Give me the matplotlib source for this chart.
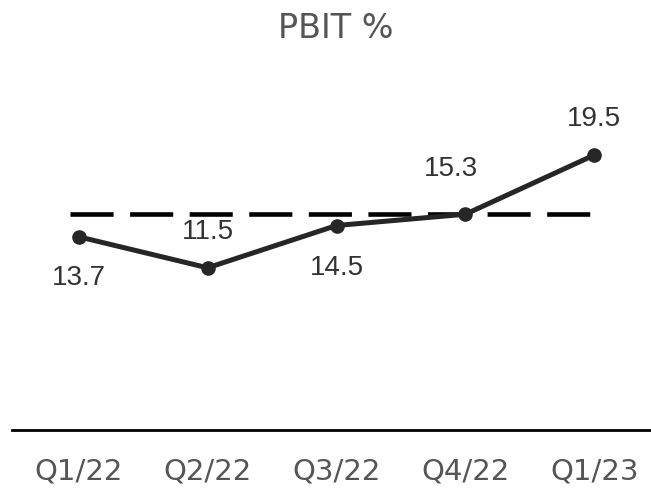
import matplotlib
matplotlib.use("Agg")
import matplotlib.pyplot as plt

categories = ["Q1/22", "Q2/22", "Q3/22", "Q4/22", "Q1/23"]
pbit = [13.7, 11.5, 14.5, 15.3, 19.5]
labels = ["13.7", "11.5", "14.5", "15.3", "19.5"]
target = 15.3
title = "PBIT %"

fig = plt.figure(figsize=(6.51, 4.88), dpi=100)
ax = fig.add_axes([0.018, 0.119, 0.982, 0.676])
x = list(range(len(categories)))

ax.plot([-0.07, 4.07], [target, target], color="black", lw=3.3,
        dashes=(9.4, 3.6), solid_capstyle="butt", zorder=1)
ax.plot(x, pbit, color="#262626", lw=3.6, marker="o", markersize=9.5, zorder=3)

offsets = [(0, -41), (0, 36), (0, -42), (-14, 45), (0, 36)]
for xi, yi, lab, off in zip(x, pbit, labels, offsets):
    ax.annotate(lab, (xi, yi), xytext=off, textcoords="offset pixels",
                ha="center", va="center", fontsize=20, color="#333333",
                family="Liberation Sans")

ax.set_xlim(-0.52, 4.44)
ax.set_ylim(0, 23.4)
ax.set_xticks(x)
ax.set_xticklabels(categories, fontsize=21, color="#555555")
ax.tick_params(axis="x", length=0, pad=20)
ax.set_yticks([])
for s in ["top", "right", "left"]:
    ax.spines[s].set_visible(False)
ax.spines["bottom"].set_linewidth(2)
ax.spines["bottom"].set_color("black")

fig.text(0.516, 0.942, title, ha="center", va="center", fontsize=24, color="#555555")

fig.savefig("out.png", dpi=100)
